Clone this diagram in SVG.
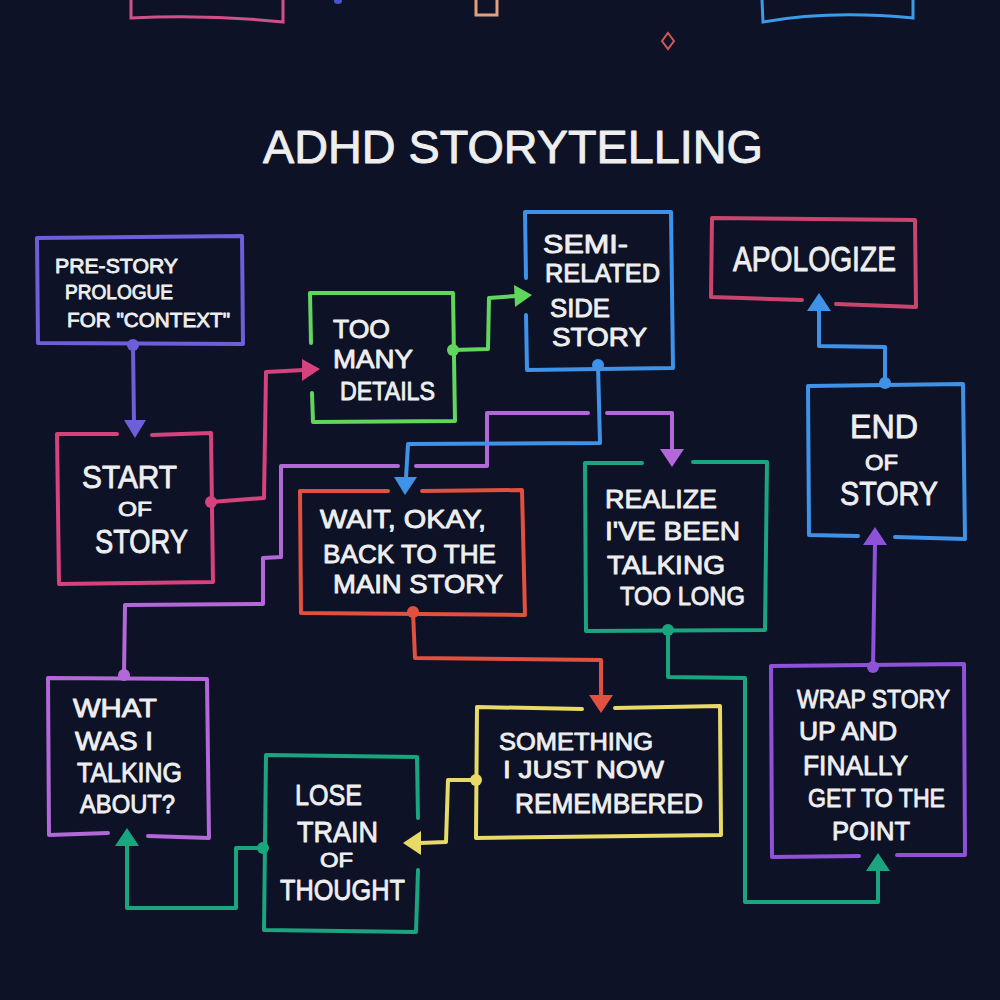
<svg xmlns="http://www.w3.org/2000/svg" width="1000" height="1000" viewBox="0 0 1000 1000">
<style>
.bg{fill:#0d1227}
.box{fill:none;stroke-width:4;stroke-linejoin:round;stroke-linecap:round}
.ln{fill:none;stroke-width:4;stroke-linejoin:round;stroke-linecap:round}
.t{font-family:"Liberation Sans","Noto Sans",sans-serif;font-weight:normal;fill:#eeeeee;stroke:#eeeeee;stroke-width:0.9;stroke-linejoin:round}
.purple{stroke:#6c5fd8}.purpleF{fill:#6c5fd8}
.pink{stroke:#d5427c}.pinkF{fill:#d5427c}
.green{stroke:#62d65c}.greenF{fill:#62d65c}
.blue{stroke:#3e93e8}.blueF{fill:#3e93e8}
.red{stroke:#e2503f}.redF{fill:#e2503f}
.teal{stroke:#1aa57f}.tealF{fill:#1aa57f}
.rose{stroke:#c9456e}
.lilac{stroke:#b368d8}.lilacF{fill:#b368d8}
.violet{stroke:#8e52d8}.violetF{fill:#8e52d8}
.yellow{stroke:#e8da66}.yellowF{fill:#e8da66}
</style>
<rect class="bg" x="0" y="0" width="1000" height="1000"/>

<g id="top-decor">
  <path d="M131,0 L131,18 Q205,14 283,22 L283,0" fill="none" stroke="#d0508a" stroke-width="3"/>
  <ellipse cx="338" cy="1" rx="4" ry="3" fill="#4a52d0"/>
  <rect x="476" y="-3" width="21" height="18" fill="none" stroke="#e0a080" stroke-width="3"/>
  <path d="M762,0 L763,22 Q830,10 913,18 L913,0" fill="none" stroke="#3b9be8" stroke-width="3"/>
  <polygon points="668,33 674,41 668,49 662,41" fill="none" stroke="#d05a5a" stroke-width="2"/>
</g>

<text id="title" class="t" x="263" y="163" font-size="46" stroke-width="1.4" textLength="500" lengthAdjust="spacingAndGlyphs">ADHD STORYTELLING</text>

<g id="connectors">
  <!-- Prologue -> Start -->
  <path class="ln purple" d="M133,345 L134,424"/>
  <polygon class="purpleF" points="124,420 146,420 135,438"/>
  <circle class="purpleF" cx="133" cy="345" r="6"/>
  <!-- Start -> Too many -->
  <path class="ln pink" d="M211,502 L264,498 L266,372 L304,370"/>
  <polygon class="pinkF" points="302,359 302,381 320,369"/>
  <circle class="pinkF" cx="211" cy="502" r="6"/>
  <!-- Too many -> Semi -->
  <path class="ln green" d="M453,350 L488,349 L489,298 L516,296"/>
  <polygon class="greenF" points="514,285 515,307 532,295"/>
  <circle class="greenF" cx="453" cy="350" r="6"/>
  <!-- What -> Realize -->
  <path class="ln lilac" d="M124,675 L125,605 L263,604 L263,558 L281,557 L281,466 L398,466 M416,466 L487,466 L487,413 L588,413 M607,413 L672,413 L672,450"/>
  <polygon class="lilacF" points="660,449 684,449 672,467"/>
  <circle class="lilacF" cx="124" cy="675" r="6"/>
  <!-- Semi -> Wait -->
  <path class="ln blue" d="M598,365 L600,443 L408,444 L406,478"/>
  <polygon class="blueF" points="394,477 417,477 405,495"/>
  <circle class="blueF" cx="598" cy="365" r="6"/>
  <!-- Wait -> Something -->
  <path class="ln red" d="M413,612 L415,658 L601,660 L601,696"/>
  <polygon class="redF" points="589,695 613,695 601,713"/>
  <circle class="redF" cx="413" cy="612" r="6"/>
  <!-- Realize -> Wrap -->
  <path class="ln teal" d="M668,630 L668,677 L745,678 L745,902 L878,902 L878,870"/>
  <polygon class="tealF" points="866,871 890,871 878,853"/>
  <circle class="tealF" cx="668" cy="630" r="6"/>
  <!-- Wrap -> End -->
  <path class="ln violet" d="M873,667 L875,544"/>
  <polygon class="violetF" points="863,545 887,545 875,527"/>
  <circle class="violetF" cx="873" cy="667" r="6"/>
  <!-- End -> Apologize -->
  <path class="ln blue" d="M885,383 L885,347 L819,346 L819,310"/>
  <polygon class="blueF" points="807,311 831,311 819,293"/>
  <circle class="blueF" cx="885" cy="383" r="6"/>
  <!-- Lose -> What -->
  <path class="ln teal" d="M263,848 L236,848 L236,908 L127,908 L127,845"/>
  <polygon class="tealF" points="115,846 139,846 127,828"/>
  <circle class="tealF" cx="263" cy="848" r="6"/>
  <!-- Something -> Lose -->
  <path class="ln yellow" d="M476,780 L448,780 L446,842 L420,843"/>
  <polygon class="yellowF" points="421,831 421,855 403,843"/>
  <circle class="yellowF" cx="476" cy="780" r="6"/>
</g>

<g id="prologue">
  <path class="box purple" d="M37,238 L242,236 L243,344 L38,343 Z"/>
  <text class="t" x="55" y="273" font-size="21" textLength="123" lengthAdjust="spacingAndGlyphs">PRE-STORY</text>
  <text class="t" x="65" y="299" font-size="21" textLength="108" lengthAdjust="spacingAndGlyphs">PROLOGUE</text>
  <text class="t" x="67" y="327" font-size="21" textLength="163" lengthAdjust="spacingAndGlyphs">FOR "CONTEXT"</text>
</g>

<g id="start">
  <path class="box pink" d="M152,435 L211,433 L213,582 L59,584 L57,434 L117,434"/>
  <text class="t" x="82" y="488" font-size="31" textLength="95" lengthAdjust="spacingAndGlyphs">START</text>
  <text class="t" x="118" y="516" font-size="21" textLength="34" lengthAdjust="spacingAndGlyphs">OF</text>
  <text class="t" x="95" y="553" font-size="34" textLength="93" lengthAdjust="spacingAndGlyphs">STORY</text>
</g>

<g id="too-many">
  <path class="box green" d="M312,393 L313,422 L455,421 L453,293 L310,293 L311,343"/>
  <text class="t" x="333" y="338" font-size="26" textLength="57" lengthAdjust="spacingAndGlyphs">TOO</text>
  <text class="t" x="333" y="368" font-size="26" textLength="80" lengthAdjust="spacingAndGlyphs">MANY</text>
  <text class="t" x="340" y="400" font-size="26" textLength="95" lengthAdjust="spacingAndGlyphs">DETAILS</text>
</g>

<g id="semi">
  <path class="box blue" d="M526,315 L527,370 L673,368 L671,212 L525,212 L526,278"/>
  <text class="t" x="543" y="253" font-size="25" textLength="85" lengthAdjust="spacingAndGlyphs">SEMI-</text>
  <text class="t" x="545" y="282" font-size="25" textLength="115" lengthAdjust="spacingAndGlyphs">RELATED</text>
  <text class="t" x="550" y="317" font-size="25" textLength="60" lengthAdjust="spacingAndGlyphs">SIDE</text>
  <text class="t" x="552" y="346" font-size="25" textLength="95" lengthAdjust="spacingAndGlyphs">STORY</text>
</g>

<g id="apologize">
  <path class="box rose" d="M836,304 L916,307 L915,220 L712,218 L711,297 L802,300"/>
  <text class="t" x="733" y="271" font-size="35" textLength="163" lengthAdjust="spacingAndGlyphs">APOLOGIZE</text>
</g>

<g id="end">
  <path class="box blue" d="M895,537 L965,539 L963,384 L808,386 L809,535 L858,536"/>
  <text class="t" x="850" y="438" font-size="34" textLength="68" lengthAdjust="spacingAndGlyphs">END</text>
  <text class="t" x="865" y="470" font-size="22" textLength="33" lengthAdjust="spacingAndGlyphs">OF</text>
  <text class="t" x="840" y="505" font-size="33" textLength="98" lengthAdjust="spacingAndGlyphs">STORY</text>
</g>

<g id="wait">
  <path class="box red" d="M422,491 L522,490 L525,615 L301,613 L300,491 L388,491"/>
  <text class="t" x="320" y="528" font-size="26" textLength="166" lengthAdjust="spacingAndGlyphs">WAIT, OKAY,</text>
  <text class="t" x="323" y="563" font-size="26" textLength="173" lengthAdjust="spacingAndGlyphs">BACK TO THE</text>
  <text class="t" x="333" y="593" font-size="26" textLength="170" lengthAdjust="spacingAndGlyphs">MAIN STORY</text>
</g>

<g id="realize">
  <path class="box teal" d="M693,462 L767,462 L765,630 L586,631 L585,463 L642,463"/>
  <text class="t" x="605" y="508" font-size="26" textLength="112" lengthAdjust="spacingAndGlyphs">REALIZE</text>
  <text class="t" x="605" y="540" font-size="26" textLength="135" lengthAdjust="spacingAndGlyphs">I'VE BEEN</text>
  <text class="t" x="607" y="574" font-size="26" textLength="118" lengthAdjust="spacingAndGlyphs">TALKING</text>
  <text class="t" x="620" y="605" font-size="26" textLength="125" lengthAdjust="spacingAndGlyphs">TOO LONG</text>
</g>

<g id="what">
  <path class="box lilac" d="M108,833 L49,835 L48,678 L207,679 L209,838 L148,836"/>
  <text class="t" x="73" y="717" font-size="26" textLength="84" lengthAdjust="spacingAndGlyphs">WHAT</text>
  <text class="t" x="75" y="750" font-size="26" textLength="78" lengthAdjust="spacingAndGlyphs">WAS I</text>
  <text class="t" x="77" y="782" font-size="27" textLength="105" lengthAdjust="spacingAndGlyphs">TALKING</text>
  <text class="t" x="80" y="813" font-size="26" textLength="95" lengthAdjust="spacingAndGlyphs">ABOUT?</text>
</g>

<g id="lose">
  <path class="box teal" d="M418,818 L417,757 L266,755 L264,930 L416,932 L418,870"/>
  <text class="t" x="295" y="805" font-size="30" textLength="67" lengthAdjust="spacingAndGlyphs">LOSE</text>
  <text class="t" x="297" y="842" font-size="30" textLength="81" lengthAdjust="spacingAndGlyphs">TRAIN</text>
  <text class="t" x="320" y="867" font-size="20" textLength="33" lengthAdjust="spacingAndGlyphs">OF</text>
  <text class="t" x="280" y="900" font-size="30" textLength="125" lengthAdjust="spacingAndGlyphs">THOUGHT</text>
</g>

<g id="something">
  <path class="box yellow" d="M582,709 L477,707 L476,838 L721,835 L720,706 L615,708"/>
  <text class="t" x="499" y="750" font-size="24" textLength="154" lengthAdjust="spacingAndGlyphs">SOMETHING</text>
  <text class="t" x="503" y="778" font-size="24" textLength="161" lengthAdjust="spacingAndGlyphs">I JUST NOW</text>
  <text class="t" x="515" y="813" font-size="27" textLength="188" lengthAdjust="spacingAndGlyphs">REMEMBERED</text>
</g>

<g id="wrap">
  <path class="box violet" d="M859,856 L772,857 L771,666 L964,664 L965,855 L897,855"/>
  <text class="t" x="797" y="708" font-size="26" textLength="153" lengthAdjust="spacingAndGlyphs">WRAP STORY</text>
  <text class="t" x="799" y="740" font-size="26" textLength="98" lengthAdjust="spacingAndGlyphs">UP AND</text>
  <text class="t" x="803" y="775" font-size="27" textLength="105" lengthAdjust="spacingAndGlyphs">FINALLY</text>
  <text class="t" x="808" y="807" font-size="26" textLength="137" lengthAdjust="spacingAndGlyphs">GET TO THE</text>
  <text class="t" x="832" y="840" font-size="26" textLength="78" lengthAdjust="spacingAndGlyphs">POINT</text>
</g>
</svg>
